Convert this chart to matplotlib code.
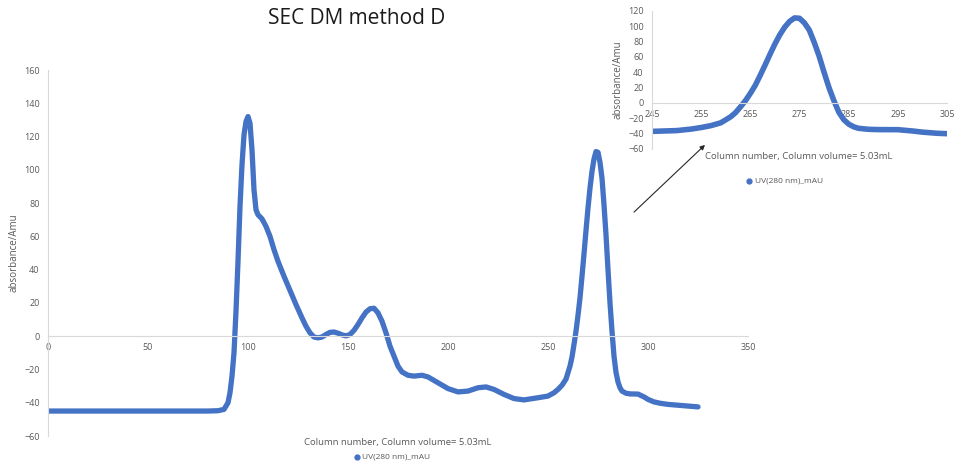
import matplotlib
matplotlib.use('Agg')
import matplotlib.pyplot as plt

# elution profile (column number vs absorbance)
column_no = [0, 20, 40, 60, 80, 85, 88, 90, 91, 92, 93, 94, 95, 96, 97, 98, 99, 100,
             101, 102, 103, 104, 105, 107, 109, 111, 113, 115, 118, 121, 124, 127, 129,
             131, 133, 135, 137, 139, 141, 143, 145, 147, 149, 151, 153, 155, 157, 159,
             161, 163, 165, 167, 169, 171, 173, 175, 177, 180, 183, 187, 190, 195, 200,
             205, 210, 215, 219, 223, 228, 233, 238, 245, 250, 253, 255, 257, 259, 261,
             262, 263, 264, 265, 266, 267, 268, 269, 270, 271, 272, 273, 274, 275, 276,
             277, 278, 279, 280, 281, 282, 283, 284, 285, 286, 287, 289, 291, 295, 298,
             300, 303, 306, 310, 315, 320, 325]
uv_280 = [-45, -45, -45, -45, -45, -44.8, -44, -40, -34, -24, -10, 15, 45, 78, 103, 121, 129, 132,
          128, 112, 88, 76, 73, 70.5, 66, 60, 52, 45, 36, 27.5, 19, 11, 6,
          2, -0.5, -1, -0.5, 1, 2.3, 2.5, 1.8, 0.8, 0.2, 1, 3.5, 7, 11, 14.5,
          16.5, 16.8, 14, 9, 2, -6, -12, -18, -21.5, -23.5, -24, -23.5, -24.5, -28, -31.5,
          -33.5, -33, -31, -30.5, -32, -35, -37.5, -38.3, -37, -36, -34, -32, -29.5, -25.8, -18,
          -12.5, -5, 3, 12.5, 23, 36, 49.5, 63.5, 77, 89, 99, 106.5, 111, 110.5, 104.5,
          95, 79, 61, 40, 20, 3, -12, -21.7, -27.5, -31, -33, -34.3, -34.7, -34.8, -36.5,
          -38, -39.5, -40.3, -41, -41.5, -42, -42.5]

main_xticks = [0, 50, 100, 150, 200, 250, 300, 350]
main_yticks = [-60, -40, -20, 0, 20, 40, 60, 80, 100, 120, 140, 160]
inset_xticks = [245, 255, 265, 275, 285, 295, 305]
inset_yticks = [-60, -40, -20, 0, 20, 40, 60, 80, 100, 120]

title = 'SEC DM method D'
xlabel = 'Column number, Column volume= 5.03mL'
ylabel = 'absorbance/Amu'
series_name = 'UV(280 nm)_mAU'

BLUE = '#4472C4'
GRID = '#d9d9d9'
TXT = '#595959'

plt.rcParams['font.family'] = ['Open Sans', 'DejaVu Sans']

W, H = 955, 465
fig = plt.figure(figsize=(W / 100, H / 100), dpi=100)


def px_box(x0, x1, y_top, y_bot):
    return [x0 / W, 1 - y_bot / H, (x1 - x0) / W, (y_bot - y_top) / H]


def excel_style(ax, xticks, yticks, fs):
    for s in ['top', 'right']:
        ax.spines[s].set_visible(False)
    ax.spines['bottom'].set_position(('data', 0))
    ax.spines['bottom'].set_color(GRID)
    ax.spines['left'].set_color(GRID)
    ax.set_xticks(xticks)
    ax.set_yticks(yticks)
    ax.set_xlim(xticks[0], xticks[-1])
    ax.set_ylim(yticks[0], yticks[-1])
    ax.tick_params(length=0, labelsize=fs, labelcolor=TXT)
    ax.tick_params(axis='x', pad=5)
    ax.tick_params(axis='y', pad=6)
    ax.patch.set_alpha(0)


# main chart
ax = fig.add_axes(px_box(48, 748, 70, 436))
excel_style(ax, main_xticks, main_yticks, 6.5)
ax.plot(column_no, uv_280, color=BLUE, lw=3.8, solid_capstyle='round', solid_joinstyle='round')
ax.set_ylabel(ylabel, fontsize=7, color=TXT, labelpad=3)
fig.text(357 / W, 1 - 18 / H, title, ha='center', va='center', fontsize=15, color='#1a1a1a')
fig.text(398 / W, 1 - 442 / H, xlabel, ha='center', va='center', fontsize=6.8, color=TXT)
fig.text(362 / W, 1 - 457 / H, series_name, ha='left', va='center', fontsize=6, color=TXT)
fig.lines.append(plt.Line2D([357 / W], [1 - 457 / H], marker='o', ms=3.5, color=BLUE,
                            transform=fig.transFigure))

# zoomed inset on the second peak
ax2 = fig.add_axes(px_box(652, 947, 11, 149))
excel_style(ax2, inset_xticks, inset_yticks, 6.5)
ax2.plot(column_no, uv_280, color=BLUE, lw=4, solid_capstyle='round', solid_joinstyle='round')
ax2.set_ylabel(ylabel, fontsize=7, color=TXT, labelpad=3)
fig.text(799 / W, 1 - 157 / H, xlabel, ha='center', va='center', fontsize=6.8, color=TXT)
fig.text(755 / W, 1 - 181 / H, series_name, ha='left', va='center', fontsize=6, color=TXT)
fig.lines.append(plt.Line2D([749 / W], [1 - 181 / H], marker='o', ms=3.5, color=BLUE,
                            transform=fig.transFigure))

# arrow pointing from the main peak to the inset
fig.add_artist(matplotlib.patches.FancyArrowPatch(
    (632 / W, 1 - 214 / H), (707 / W, 1 - 143 / H), transform=fig.transFigure,
    arrowstyle='-|>', mutation_scale=7, lw=0.8, color='#262626'))

fig.savefig('out.png', dpi=100)
